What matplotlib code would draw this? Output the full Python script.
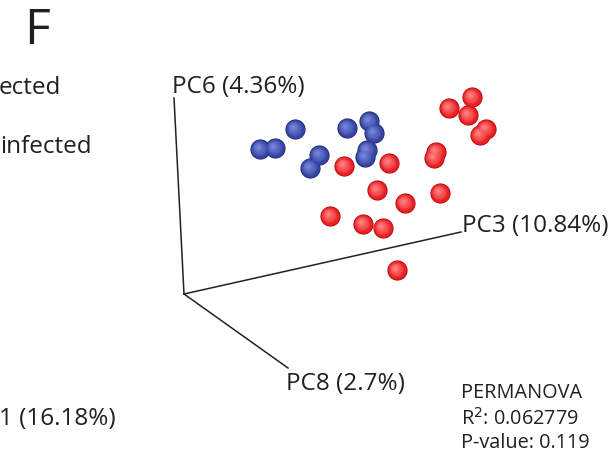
import numpy as np
import matplotlib.pyplot as plt

# projected positions of the PCoA samples (screen px of the 3D view)
infected_x = [472, 449, 468, 486, 480, 436, 434, 344, 389, 377, 405, 440, 330, 363, 383, 397]
infected_y = [97, 108, 115, 129, 135, 152, 158, 166, 163, 190, 203, 193, 216, 224, 228, 270]
uninfected_x = [295, 260, 275, 347, 369, 374, 319, 310, 367, 365]
uninfected_y = [129, 149, 148, 128, 121, 133, 155, 168, 150, 157]

# axis end points of the 3D frame
origin = (184, 294)
axis_ends = {"PC6": (174, 98), "PC3": (461, 232), "PC8": (288, 368)}

# the figure is cropped on the left, only these parts are visible
legend_texts = ["ected", "infected"]
pc1_text = "1 (16.18%)"

text_color = "#231f20"
plt.rcParams["font.family"] = ["Open Sans", "DejaVu Sans"]

fig = plt.figure(figsize=(6.14, 4.54), dpi=100)
ax = fig.add_axes([0, 0, 1, 1])
ax.set_xlim(0, 614)
ax.set_ylim(454, 0)
ax.axis("off")

for k, end in axis_ends.items():
    ax.plot([origin[0], end[0]], [origin[1], end[1]], color="#222222", lw=1.1, zorder=1)


def spheres(xs, ys, base, light, dark):
    xs = np.array(xs, dtype=float)
    ys = np.array(ys, dtype=float)
    ax.scatter(xs, ys, s=210, color=dark, zorder=2, linewidths=0)
    steps = 8
    for i in range(steps):
        t = i / (steps - 1)
        c = np.array(base) * (1 - t) + np.array(light) * t
        size = 185 * (1 - t) ** 1.3 + 5
        off = 2.5 * t
        ax.scatter(xs - off, ys - off, s=size, color=c, zorder=3 + i, linewidths=0)


spheres(uninfected_x, uninfected_y, (0.18, 0.23, 0.60), (0.45, 0.52, 0.85), (0.10, 0.13, 0.40))
spheres(infected_x, infected_y, (0.90, 0.07, 0.09), (1.0, 0.50, 0.50), (0.60, 0.03, 0.05))

ax.text(37, 31, "F", fontsize=36, color=text_color, ha="center", va="center")
ax.text(-1, 88, legend_texts[0], fontsize=17.5, color=text_color, ha="left", va="center")
ax.text(0, 147, legend_texts[1], fontsize=17.5, color=text_color, ha="left", va="center")
ax.text(-1, 419, pc1_text, fontsize=17.5, color=text_color, ha="left", va="center")

ax.text(172, 87, "PC6 (4.36%)", fontsize=17.5, color=text_color, ha="left", va="center")
ax.text(462, 226, "PC3 (10.84%)", fontsize=17.5, color=text_color, ha="left", va="center")
ax.text(286, 384, "PC8 (2.7%)", fontsize=17.5, color=text_color, ha="left", va="center")

ax.text(461, 393, "PERMANOVA", fontsize=14.3, color=text_color, ha="left", va="center")
ax.text(461, 419, "R$^2$: 0.062779", fontsize=14.3, color=text_color, ha="left", va="center")
ax.text(461, 443, "P-value: 0.119", fontsize=14.3, color=text_color, ha="left", va="center")

fig.savefig("out.png", dpi=100)
